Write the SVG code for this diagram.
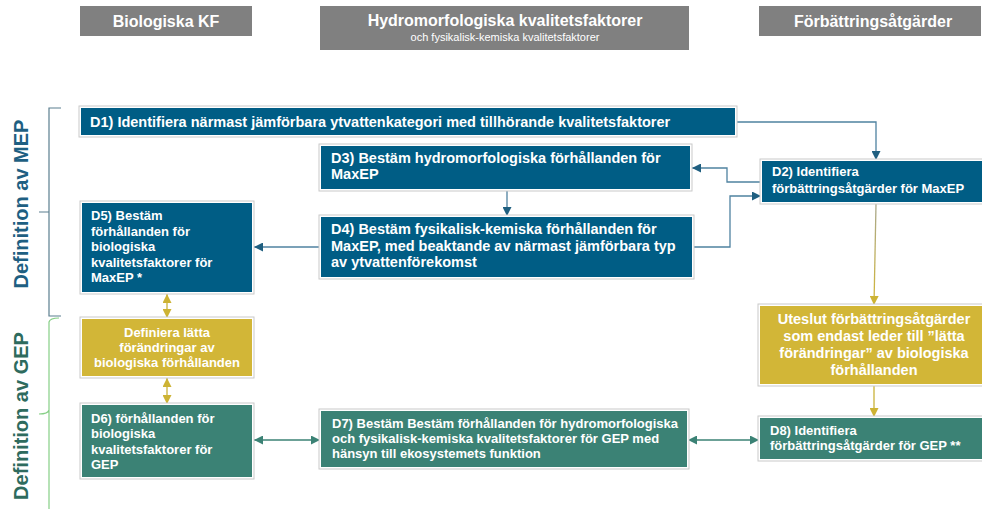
<svg xmlns="http://www.w3.org/2000/svg" width="982" height="509" viewBox="0 0 982 509">
<defs>
<style>
.bg{fill:#ffffff}
.hdr{fill:#808080}
.frame{fill:#ffffff;stroke:#c9c9c9;stroke-width:1}
.blue{fill:#005d85}
.teal{fill:#3b8275}
.yel{fill:#d2b637}
.t{font-family:"Liberation Sans",Arial,sans-serif;font-weight:bold;fill:#ffffff}
.t14{font-size:14.5px}
.t13{font-size:13px}
.h16{font-family:"Liberation Sans",Arial,sans-serif;font-weight:bold;font-size:16px;fill:#ffffff}
.h10{font-family:"Liberation Sans",Arial,sans-serif;font-size:11px;fill:#ffffff}
.c{text-anchor:middle}
.lb{stroke:#4f82a0;stroke-width:1.3;fill:none}
.lt{stroke:#3b8275;stroke-width:1.3;fill:none}
.ly{stroke:#c9b23a;stroke-width:1.3;fill:none}
.side{font-family:"Liberation Sans",Arial,sans-serif;font-weight:bold;font-size:20px;text-anchor:middle}
</style>
<marker id="ab" viewBox="0 0 10 10" refX="10" refY="5" markerWidth="9" markerHeight="9" markerUnits="userSpaceOnUse" orient="auto-start-reverse"><path d="M0,0 L10,5 L0,10 z" fill="#1f5f80"/></marker>
<marker id="at" viewBox="0 0 10 10" refX="10" refY="5" markerWidth="9" markerHeight="9" markerUnits="userSpaceOnUse" orient="auto-start-reverse"><path d="M0,0 L10,5 L0,10 z" fill="#3b8275"/></marker>
<marker id="ay" viewBox="0 0 10 10" refX="10" refY="5" markerWidth="9" markerHeight="9" markerUnits="userSpaceOnUse" orient="auto-start-reverse"><path d="M0,0 L10,5 L0,10 z" fill="#cdb334"/></marker>
<linearGradient id="gy" gradientUnits="userSpaceOnUse" x1="0" y1="204" x2="0" y2="304"><stop offset="0" stop-color="#a9a88c"/><stop offset="1" stop-color="#d2b637"/></linearGradient>
</defs>
<rect class="bg" x="0" y="0" width="982" height="509"/>

<g id="headers">
<g id="hdr-bio"><rect class="hdr" x="80" y="6" width="172" height="30"/><text class="h16 c" x="166" y="27">Biologiska KF</text></g>
<g id="hdr-hydro"><rect class="hdr" x="320" y="6" width="369" height="44"/><text class="h16 c" x="505" y="26">Hydromorfologiska kvalitetsfaktorer</text><text class="h10 c" x="505" y="41">och fysikalisk-kemiska kvalitetsfaktorer</text></g>
<g id="hdr-forb"><rect class="hdr" x="759" y="6" width="222" height="30"/><text class="h16 c" x="873" y="27">Förbättringsåtgärder</text></g>
</g>

<g id="side-labels">
<path d="M61,108 H49 V316 H61 M49,212 H39" fill="none" stroke="#5b7f8f" stroke-width="1.2"/>
<text class="side" fill="#1e5f82" transform="translate(28,204) rotate(-90)">Definition av MEP</text>
<path d="M59,318 Q50,318 49,322 V509 M49,410 Q48,414 39,414" fill="none" stroke="#86cf86" stroke-width="1.2"/>
<text class="side" fill="#2e6b5e" transform="translate(28,416) rotate(-90)">Definition av GEP</text>
</g>

<g id="connectors">
<path class="lb" d="M736,122 H876 V160" marker-end="url(#ab)"/>
<path class="lb" d="M761,182 H727 V168 H692" marker-end="url(#ab)"/>
<path class="lb" d="M693,247 H730 V196 H761" marker-end="url(#ab)"/>
<path class="lb" d="M507,190 V216" marker-end="url(#ab)"/>
<path class="lb" d="M320,247 H254" marker-end="url(#ab)"/>
<path class="ly" d="M167,294 V318" marker-start="url(#ay)" marker-end="url(#ay)"/>
<path class="ly" d="M167,378 V404" marker-start="url(#ay)" marker-end="url(#ay)"/>
<path class="lt" d="M254,440 H320" marker-start="url(#at)" marker-end="url(#at)"/>
<path class="lt" d="M688,440 H759" marker-start="url(#at)" marker-end="url(#at)"/>
<path d="M876,204 L874,305" fill="none" stroke="url(#gy)" stroke-width="1.3" marker-end="url(#ay)"/>
<path class="ly" d="M874,386 V417" marker-end="url(#ay)"/>
</g>

<g id="D1">
<rect class="frame" x="79" y="106" width="658" height="31"/>
<rect class="blue" x="81" y="108" width="654" height="27"/>
<text class="t t14" x="90" y="127">D1) Identifiera närmast jämförbara ytvattenkategori med tillhörande kvalitetsfaktorer</text>
</g>

<g id="D3">
<rect class="frame" x="319" y="144" width="373" height="47"/>
<rect class="blue" x="321" y="146" width="369" height="43"/>
<text class="t t14" x="331" y="163">D3) Bestäm hydromorfologiska förhållanden för</text>
<text class="t t14" x="331" y="179">MaxEP</text>
</g>

<g id="D4">
<rect class="frame" x="319" y="215" width="375" height="64"/>
<rect class="blue" x="321" y="217" width="371" height="60"/>
<text class="t t14" x="331" y="234">D4) Bestäm fysikalisk-kemiska förhållanden för</text>
<text class="t t14" x="331" y="251">MaxEP, med beaktande av närmast jämförbara typ</text>
<text class="t t14" x="331" y="267">av ytvattenförekomst</text>
</g>

<g id="D2">
<rect class="frame" x="760" y="159" width="224" height="45"/>
<rect class="blue" x="762" y="161" width="222" height="41"/>
<text class="t t13" x="772" y="176">D2) Identifiera</text>
<text class="t t13" x="772" y="193">förbättringsåtgärder för MaxEP</text>
</g>

<g id="D5">
<rect class="frame" x="80" y="201" width="174" height="93"/>
<rect class="blue" x="82" y="203" width="170" height="89"/>
<text class="t t13" x="91" y="220">D5) Bestäm</text>
<text class="t t13" x="91" y="236">förhållanden för</text>
<text class="t t13" x="91" y="251">biologiska</text>
<text class="t t13" x="91" y="267">kvalitetsfaktorer för</text>
<text class="t t13" x="91" y="282">MaxEP *</text>
</g>

<g id="lätta-bio">
<rect class="frame" x="80" y="317" width="174" height="61"/>
<rect class="yel" x="82" y="319" width="170" height="57"/>
<text class="t t13 c" x="167" y="337">Definiera lätta</text>
<text class="t t13 c" x="167" y="352">förändringar av</text>
<text class="t t13 c" x="167" y="367">biologiska förhållanden</text>
</g>

<g id="D6">
<rect class="frame" x="80" y="403" width="174" height="76"/>
<rect class="teal" x="82" y="405" width="170" height="72"/>
<text class="t t13" x="91" y="423">D6) förhållanden för</text>
<text class="t t13" x="91" y="438">biologiska</text>
<text class="t t13" x="91" y="454">kvalitetsfaktorer för</text>
<text class="t t13" x="91" y="469">GEP</text>
</g>

<g id="D7">
<rect class="frame" x="319" y="409" width="370" height="60"/>
<rect class="teal" x="321" y="411" width="366" height="56"/>
<text class="t t13" x="332" y="428">D7) Bestäm Bestäm förhållanden för hydromorfologiska</text>
<text class="t t13" x="332" y="443">och fysikalisk-kemiska kvalitetsfaktorer för GEP med</text>
<text class="t t13" x="332" y="458">hänsyn till ekosystemets funktion</text>
</g>

<g id="uteslut">
<rect class="frame" x="758" y="304" width="226" height="82"/>
<rect class="yel" x="760" y="306" width="224" height="78"/>
<text class="t t14 c" x="874" y="324">Uteslut förbättringsåtgärder</text>
<text class="t t14 c" x="874" y="341">som endast leder till ”lätta</text>
<text class="t t14 c" x="874" y="358">förändringar” av biologiska</text>
<text class="t t14 c" x="874" y="375">förhållanden</text>
</g>

<g id="D8">
<rect class="frame" x="758" y="416" width="226" height="45"/>
<rect class="teal" x="760" y="418" width="224" height="41"/>
<text class="t t13" x="770" y="435">D8) Identifiera</text>
<text class="t t13" x="770" y="450">förbättringsåtgärder för GEP **</text>
</g>
</svg>
